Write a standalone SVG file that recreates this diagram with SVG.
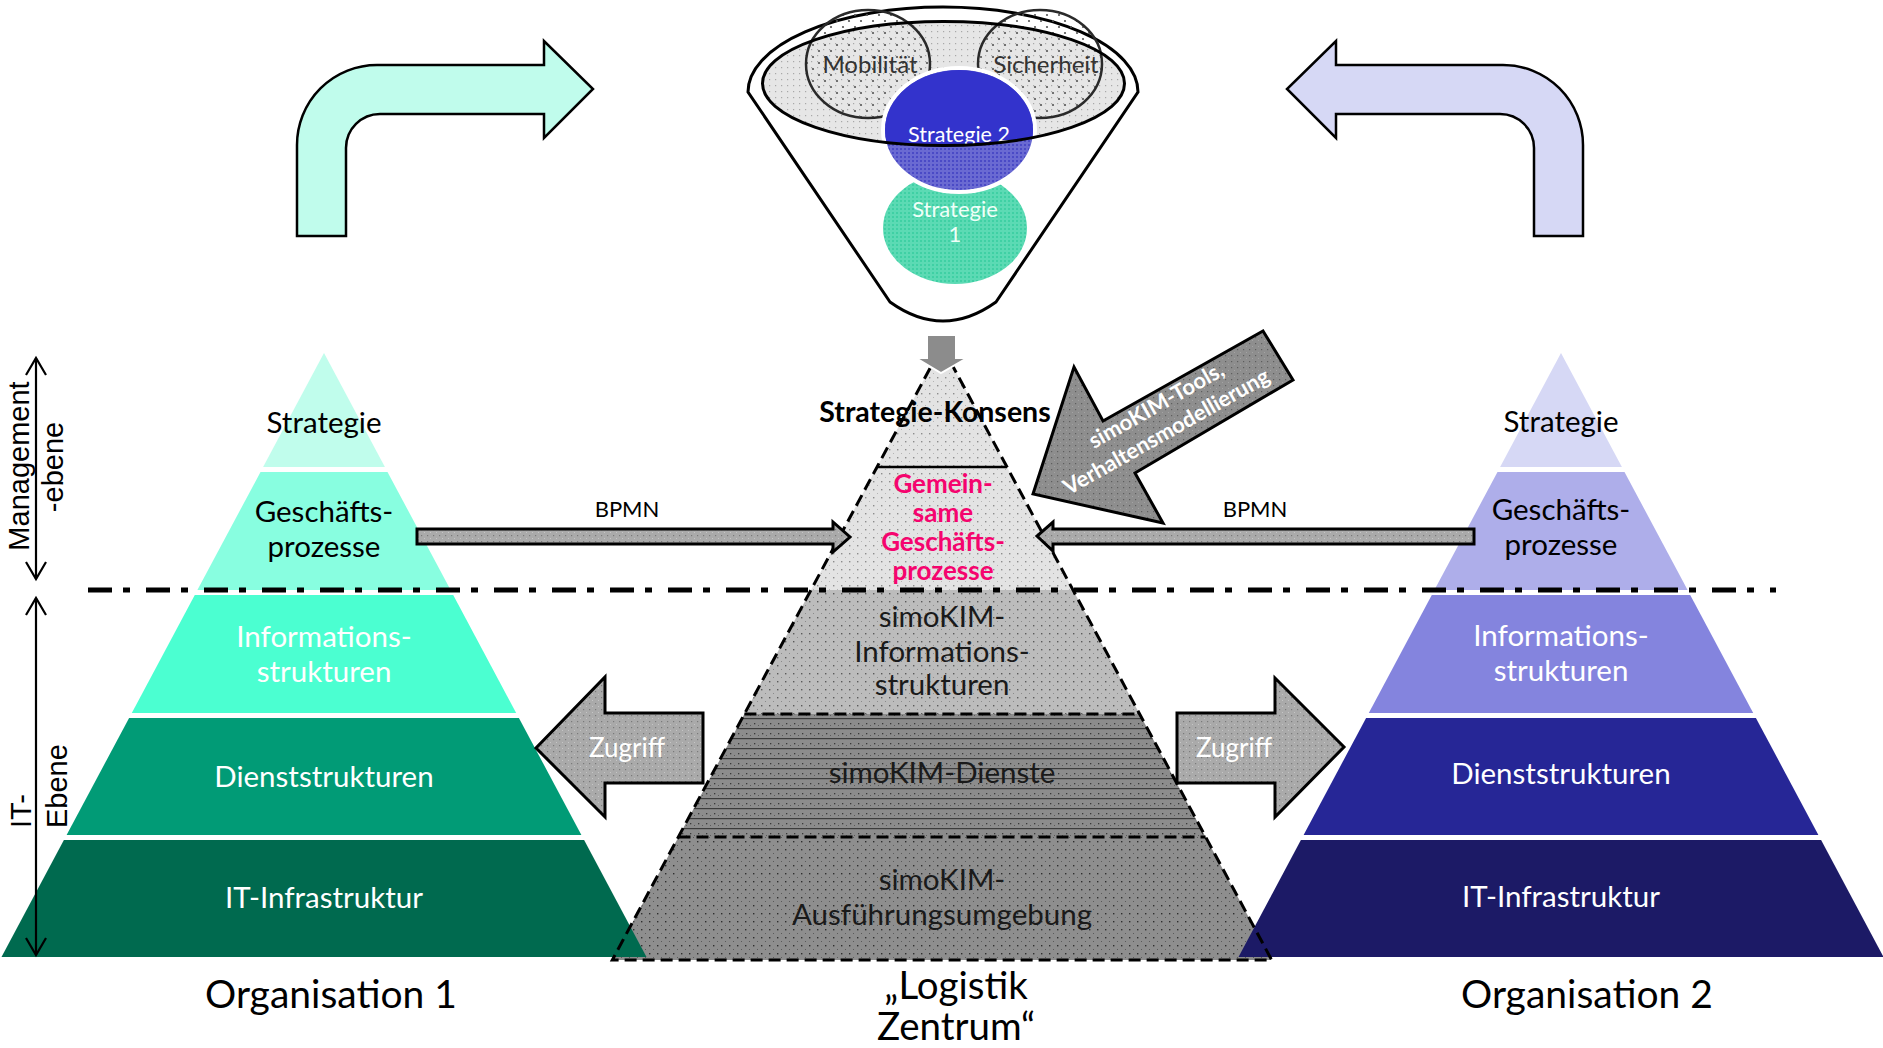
<svg xmlns="http://www.w3.org/2000/svg" width="1883" height="1048" viewBox="0 0 1883 1048">
<style>
.t{font-family:Lato,"Open Sans","Liberation Sans",sans-serif;text-anchor:middle}
.a{font-family:"Liberation Sans",Arial,sans-serif;font-size:29px;fill:#000}
.lbl{font-size:29.5px}
.blk{fill:#000}
.wht{fill:#fff}
.dk{fill:#1a1a1a}
.org{font-size:39px;fill:#000}
.ol{stroke:#000;stroke-width:3}
.dash{fill:none;stroke:#000;stroke-width:3;stroke-dasharray:12 6}
</style>
<defs>
<pattern id="pL" width="8" height="8" patternUnits="userSpaceOnUse"><rect width="8" height="8" fill="#e3e3e3"/><rect x="1" y="1" width="1.4" height="1.4" fill="#8c8c8c"/><rect x="5" y="5" width="1" height="1" fill="#b4b4b4"/></pattern>
<pattern id="pM" width="8" height="8" patternUnits="userSpaceOnUse"><rect width="8" height="8" fill="#bcbcbc"/><rect x="1" y="1" width="1.4" height="1.4" fill="#5a5a5a"/><rect x="5" y="5" width="1" height="1" fill="#8a8a8a"/></pattern>
<pattern id="pD" width="8" height="8" patternUnits="userSpaceOnUse"><rect width="8" height="8" fill="#8e8e8e"/><rect x="1" y="1" width="1.4" height="1.4" fill="#2e2e2e"/><rect x="5" y="5" width="1" height="1" fill="#5a5a5a"/></pattern>
<pattern id="pS" width="8" height="10" patternUnits="userSpaceOnUse"><rect width="8" height="10" fill="#8c8c8c"/><rect y="8" width="8" height="1.2" fill="#3c3c3c"/><rect x="2" y="3" width="1.3" height="1.3" fill="#3a3a3a"/><rect x="6" y="5" width="1" height="1" fill="#5a5a5a"/></pattern>
<pattern id="pA" width="6" height="6" patternUnits="userSpaceOnUse"><rect width="6" height="6" fill="#aaaaaa"/><rect x="1" y="1" width="1.2" height="1.2" fill="#7a7a7a"/><rect x="4" y="4" width="1" height="1" fill="#c6c6c6"/></pattern>
<pattern id="pK" width="6" height="6" patternUnits="userSpaceOnUse"><rect width="6" height="6" fill="#8e8e8e"/><rect x="1" y="1" width="1.2" height="1.2" fill="#5e5e5e"/><rect x="4" y="4" width="1" height="1" fill="#a4a4a4"/></pattern>
<pattern id="pE" width="6" height="6" patternUnits="userSpaceOnUse"><rect width="6" height="6" fill="#e6e6e6"/><rect x="1" y="1" width="1.2" height="1.2" fill="#a8a8a8"/></pattern>
<pattern id="pC" width="12" height="12" patternUnits="userSpaceOnUse"><circle cx="3" cy="3" r="1.1" fill="#555"/><circle cx="9" cy="9" r="1.1" fill="#555"/></pattern>
<pattern id="pB" width="4" height="4" patternUnits="userSpaceOnUse"><rect width="4" height="4" fill="#6a6ad2"/><rect x="0" y="0" width="2" height="2" fill="#4a4ac6"/></pattern>
<pattern id="pG" width="4" height="4" patternUnits="userSpaceOnUse"><rect width="4" height="4" fill="#5cdab4"/><rect x="0" y="0" width="2" height="2" fill="#3fd0a4"/></pattern>
<clipPath id="inEll"><ellipse cx="943.5" cy="83.5" rx="181" ry="62"/></clipPath>
</defs>
<rect width="1883" height="1048" fill="#fff"/>

<!-- Funnel -->
<g id="funnel">
<path d="M748,92 A195,85 0 0 1 1138,92 L996,302 Q943,340 890,302 Z" fill="#fff" stroke="#000" stroke-width="3"/>
<ellipse cx="943.5" cy="83.5" rx="181" ry="62" fill="url(#pE)"/>
<ellipse id="mobilitaet" cx="868" cy="64" rx="62" ry="54" fill="url(#pC)" stroke="#2a2a2a" stroke-width="2.5"/>
<ellipse id="sicherheit" cx="1040" cy="64" rx="62" ry="54" fill="url(#pC)" stroke="#2a2a2a" stroke-width="2.5"/>
<text class="t" x="870" y="73" style="font-size:24px;fill:#333">Mobilität</text>
<text class="t" x="1046" y="73" style="font-size:24px;fill:#333">Sicherheit</text>
<g id="strategie1">
<ellipse cx="955" cy="228" rx="72" ry="56" fill="url(#pG)"/>
<text class="t" x="955" y="217" style="font-size:22px;fill:#effff8">Strategie</text>
<text class="t" x="955" y="242" style="font-size:22px;fill:#effff8">1</text>
</g>
<g id="strategie2">
<ellipse cx="959" cy="130" rx="76" ry="62" fill="url(#pB)" stroke="#fff" stroke-width="4"/>
<ellipse cx="959" cy="130" rx="74" ry="60" fill="#3333cc" clip-path="url(#inEll)"/>
<text class="t" x="959" y="142" style="font-size:21.5px;fill:#fff">Strategie 2</text>
</g>
<ellipse cx="943.5" cy="83.5" rx="181" ry="62" fill="none" stroke="#000" stroke-width="3"/>
</g>

<!-- Center pyramid -->
<g id="center-pyramid">
<g id="c-konsens"><polygon points="942,346 1007,467 877,467" fill="url(#pL)"/></g>
<g id="c-gp"><polygon points="877,467 1007,467 1073,590 811,590" fill="url(#pL)"/></g>
<g id="c-info"><polygon points="811,590 1073,590 1139.6,714 744.4,714" fill="url(#pM)"/></g>
<g id="c-dienste"><polygon points="744.4,714 1139.6,714 1205.5,837 678.5,837" fill="url(#pS)"/></g>
<g id="c-ausf"><polygon points="678.5,837 1205.5,837 1271.7,960 612.3,960" fill="url(#pD)"/></g>
</g>

<!-- Left pyramid -->
<g id="org1">
<g id="o1-strategie"><polygon points="324,353 384.9,467 263.1,467" fill="#c0fdec"/><text class="t lbl blk" x="324" y="433">Strategie</text></g>
<g id="o1-gp"><polygon points="260.5,472 387.5,472 450.6,590 197.4,590" fill="#88fee0"/><text class="t lbl blk" x="324" y="522">Geschäfts-</text><text class="t lbl blk" x="324" y="557">prozesse</text></g>
<g id="o1-info"><polygon points="194.8,595 453.2,595 516.2,713 131.8,713" fill="#4bffd1"/><text class="t lbl wht" x="324" y="647">Informations-</text><text class="t lbl wht" x="324" y="682">strukturen</text></g>
<g id="o1-dienst"><polygon points="129.1,718 518.9,718 581.4,835 66.6,835" fill="#019b76"/><text class="t lbl wht" x="324" y="787">Dienststrukturen</text></g>
<g id="o1-it"><polygon points="63.9,840 584.1,840 646.5,957 1.5,957" fill="#006a4f"/><text class="t lbl wht" x="324" y="908">IT-Infrastruktur</text></g>
<text class="t org" x="331" y="1008">Organisation 1</text>
</g>

<!-- Right pyramid -->
<g id="org2">
<g id="o2-strategie"><polygon points="1561,353 1621.9,467 1500.1,467" fill="#d6d8f5"/><text class="t lbl blk" x="1561" y="432">Strategie</text></g>
<g id="o2-gp"><polygon points="1497.5,472 1624.5,472 1687.6,590 1434.4,590" fill="#aeaeea"/><text class="t lbl blk" x="1561" y="520">Geschäfts-</text><text class="t lbl blk" x="1561" y="555">prozesse</text></g>
<g id="o2-info"><polygon points="1431.8,595 1690.2,595 1753.2,713 1368.8,713" fill="#8484de"/><text class="t lbl wht" x="1561" y="646">Informations-</text><text class="t lbl wht" x="1561" y="681">strukturen</text></g>
<g id="o2-dienst"><polygon points="1366.1,718 1755.9,718 1818.4,835 1303.6,835" fill="#262696"/><text class="t lbl wht" x="1561" y="784">Dienststrukturen</text></g>
<g id="o2-it"><polygon points="1300.9,840 1821.1,840 1883.5,957 1238.5,957" fill="#1c1a66"/><text class="t lbl wht" x="1561" y="907">IT-Infrastruktur</text></g>
<text class="t org" x="1587" y="1008">Organisation 2</text>
</g>

<!-- Center pyramid outline and texts -->
<g id="center-outline">
<polygon points="942,346 1271.7,960 612.3,960" class="dash"/>
<line x1="877" y1="467" x2="1007" y2="467" stroke="#000" stroke-width="2.5"/>
<line x1="744.4" y1="714" x2="1139.6" y2="714" class="dash"/>
<line x1="678.5" y1="837" x2="1205.5" y2="837" class="dash"/>
<text class="t" x="935" y="422" style="font-size:28.5px;font-weight:bold;fill:#000">Strategie-Konsens</text>
<g style="font-size:26px;font-weight:bold;fill:#f5046e">
<text class="t" x="943" y="493">Gemein-</text>
<text class="t" x="943" y="522">same</text>
<text class="t" x="943" y="551">Geschäfts-</text>
<text class="t" x="943" y="580">prozesse</text>
</g>
<text class="t lbl dk" x="942" y="627">simoKIM-</text>
<text class="t lbl dk" x="942" y="662">Informations-</text>
<text class="t lbl dk" x="942" y="695">strukturen</text>
<text class="t lbl dk" x="942" y="783">simoKIM-Dienste</text>
<text class="t lbl dk" x="942" y="890">simoKIM-</text>
<text class="t lbl dk" x="942" y="925">Ausführungsumgebung</text>
<text class="t" x="956" y="999" style="font-size:38.5px;fill:#000">„Logistik</text>
<text class="t" x="956" y="1040" style="font-size:38.5px;fill:#000">Zentrum“</text>
</g>

<!-- Level axis -->
<g id="levels">
<g fill="none" stroke="#000" stroke-width="2.2">
<line x1="36" y1="358" x2="36" y2="579"/>
<polyline points="26,375 36,358 46,375"/>
<polyline points="26,562 36,579 46,562"/>
<line x1="36" y1="598" x2="36" y2="955"/>
<polyline points="26,615 36,598 46,615"/>
<polyline points="26,938 36,955 46,938"/>
</g>
<text class="a" transform="translate(29,466) rotate(-90)" text-anchor="middle">Management</text>
<text class="a" transform="translate(63,467) rotate(-90)" text-anchor="middle">-ebene</text>
<text class="a" transform="translate(31,828) rotate(-90)">IT-</text>
<text class="a" transform="translate(67,828) rotate(-90)">Ebene</text>
<line x1="88" y1="590" x2="1776" y2="590" stroke="#000" stroke-width="5" stroke-dasharray="24 11 7 16"/>
</g>

<!-- Connectors -->
<g id="connectors">
<path id="bent-left" d="M297,236 L297,145 A80,80 0 0 1 377,65 L544,65 L544,41 L593,89 L544,138 L544,114 L380,114 A34,34 0 0 0 346,148 L346,236 Z" fill="#c0fcec" stroke="#000" stroke-width="2.5" stroke-linejoin="miter"/>
<path id="bent-right" d="M1583,236 L1583,145 A80,80 0 0 0 1503,65 L1336,65 L1336,41 L1287,89 L1336,138 L1336,114 L1500,114 A34,34 0 0 1 1534,148 L1534,236 Z" fill="#d6d8f5" stroke="#000" stroke-width="2.5"/>
<polygon id="down-arrow" points="927,335 956,335 956,358 967,358 941,373 916,358 927,358" fill="#8c8c8c" stroke="#fff" stroke-width="2"/>
<polygon id="bpmn-left" points="417,529 833,529 833,522 850,537 833,552 833,544 417,544" fill="url(#pA)" class="ol"/>
<text class="t" x="627" y="517" style="font-size:22px;fill:#000">BPMN</text>
<polygon id="bpmn-right" points="1474,529 1053,529 1053,522 1037,536 1053,551 1053,544 1474,544" fill="url(#pA)" class="ol"/>
<text class="t" x="1255" y="517" style="font-size:22px;fill:#000">BPMN</text>
<g id="zugriff-left">
<polygon points="703,713 605,713 605,677 536,748 605,817 605,783 703,783" fill="url(#pA)" class="ol"/>
<text class="t" x="627" y="757" style="font-size:26px;fill:#fff">Zugriff</text>
</g>
<g id="zugriff-right">
<polygon points="1177,713 1275,713 1275,678 1344,747 1275,817 1275,783 1177,783" fill="url(#pA)" class="ol"/>
<text class="t" x="1234" y="757" style="font-size:26px;fill:#fff">Zugriff</text>
</g>
<g id="simokim-tools">
<polygon points="1033,494 1074,367 1103,421 1263,331 1293,380 1135,473 1163,523" fill="url(#pK)" class="ol" stroke-linejoin="miter"/>
<g transform="translate(1161,418) rotate(-29.5)" style="font-size:22px;font-weight:bold;fill:#fff">
<text class="t" x="2" y="-6">simoKIM-Tools,</text>
<text class="t" x="-2" y="22">Verhaltensmodellierung</text>
</g>
</g>
</g>
</svg>
